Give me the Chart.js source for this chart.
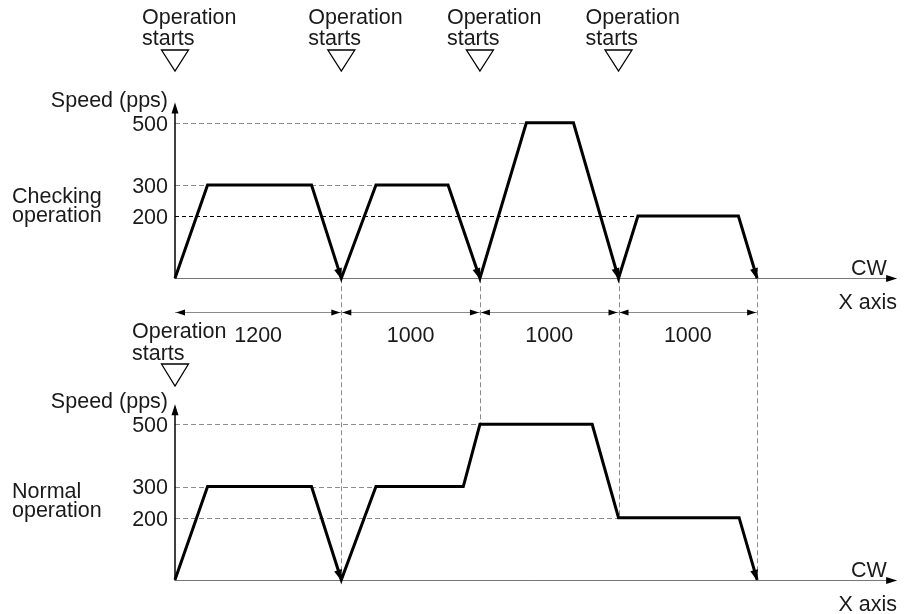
<!DOCTYPE html>
<html>
<head>
<meta charset="utf-8">
<script src="https://cdn.jsdelivr.net/npm/chart.js@4.4.0/dist/chart.umd.min.js"></script>
<style>
  html, body { margin: 0; padding: 0; background: #fff; }
  #wrap { position: relative; width: 908px; height: 614px; }
</style>
</head>
<body>
<div id="wrap"><canvas id="grafico" width="908" height="614"></canvas></div>
<script>
// X axis position (pulses) and speed (pps) for each panel
const checkX     = [0, 235, 985, 1200, 1450, 1970, 2200, 2535, 2875, 3200, 3340, 4065, 4200];
const checkSpeed = [0, 300, 300,    0,  300,  300,    0,  500,  500,    0,  200,  200,    0];
const normalX     = [0, 235, 985, 1200, 1450, 2080, 2200, 3010, 3200, 4070, 4200];
const normalSpeed = [0, 300, 300,    0,  300,  300,  500,  500,  200,  200,    0];

const speedTicks = [500, 300, 200];
const distances = [1200, 1000, 1000, 1000];

const checkTitle = ['Checking', 'operation'];
const normalTitle = ['Normal', 'operation'];
const startText = ['Operation', 'starts'];
const speedTitle = 'Speed (pps)';
const dirText = 'CW';
const axisText = 'X axis';

// where each move starts / ends along the X axis
let starts = [0];
distances.forEach(d => starts.push(starts[starts.length - 1] + d));

const FONT = '21.5px "Liberation Sans", Arial, Helvetica, sans-serif';
const INK = '#1a1a1a';
const GRIS = '#8a8a8a';

const panels = [
  { axis: 'yTop', xs: checkX, speeds: checkSpeed, title: checkTitle, titleY: [203, 222],
    marks: starts.slice(0, -1), markText: 33, markTextY: [24, 45], triY: [50, 71], darkGuide: 200 },
  { axis: 'yBot', xs: normalX, speeds: normalSpeed, title: normalTitle, titleY: [498, 517],
    marks: [0], markText: 43, markTextY: [338, 360], triY: [364, 386], darkGuide: null }
];

function arrowHead(c, fx, fy, tx, ty, len, half) {
  const a = Math.atan2(ty - fy, tx - fx);
  const bx = tx - len * Math.cos(a), by = ty - len * Math.sin(a);
  c.beginPath();
  c.moveTo(tx, ty);
  c.lineTo(bx + half * Math.sin(a), by - half * Math.cos(a));
  c.lineTo(bx - half * Math.sin(a), by + half * Math.cos(a));
  c.closePath();
  c.fill();
}

function plateauStart(xs, sp, v) {
  let found = null;
  for (let i = 1; i < sp.length; i++) {
    if (sp[i] === v && sp[i - 1] !== v) found = xs[i];
  }
  return found;
}

function speedAt(xs, sp, x) {
  let m = 0;
  xs.forEach((xx, i) => { if (xx === x) m = Math.max(m, sp[i]); });
  return m;
}

const diagrama = {
  id: 'diagrama',
  beforeDatasetsDraw(chart) {
    const c = chart.ctx, sx = chart.scales.x;
    const yT = chart.scales.yTop, yB = chart.scales.yBot;
    c.save();
    c.lineWidth = 1;

    panels.forEach(p => {
      const y = chart.scales[p.axis];
      const x0 = sx.getPixelForValue(0);
      // dashed speed guides
      speedTicks.forEach(v => {
        const xe = plateauStart(p.xs, p.speeds, v);
        if (xe === null) return;
        const dark = p.darkGuide === v;
        c.strokeStyle = dark ? '#000' : GRIS;
        c.setLineDash(dark ? [4, 3] : [5, 3]);
        c.beginPath();
        c.moveTo(x0, Math.round(y.getPixelForValue(v)) + 0.5);
        c.lineTo(sx.getPixelForValue(xe), Math.round(y.getPixelForValue(v)) + 0.5);
        c.stroke();
      });
      c.setLineDash([]);
      // X axis baseline
      const yb = Math.round(y.getPixelForValue(0)) + 0.5;
      const xEnd = sx.getPixelForValue(5210);
      c.strokeStyle = '#777';
      c.beginPath();
      c.moveTo(x0, yb);
      c.lineTo(xEnd - 6, yb);
      c.stroke();
      c.fillStyle = '#000';
      arrowHead(c, x0, yb, xEnd, yb, 11, 3.5);
      // speed axis
      const yTip = y.getPixelForValue(565);
      c.strokeStyle = '#000';
      c.lineWidth = 1.5;
      c.beginPath();
      c.moveTo(x0, yb);
      c.lineTo(x0, yTip + 6);
      c.stroke();
      arrowHead(c, x0, yb, x0, yTip, 11, 3.5);
      c.lineWidth = 1;
    });

    // vertical dashed connectors between the panels
    c.strokeStyle = GRIS;
    c.setLineDash([5, 3]);
    starts.slice(1).forEach(s => {
      const px = Math.round(sx.getPixelForValue(s)) + 0.5;
      c.beginPath();
      c.moveTo(px, yT.getPixelForValue(0));
      c.lineTo(px, yB.getPixelForValue(speedAt(normalX, normalSpeed, s)));
      c.stroke();
    });
    c.setLineDash([]);

    // distance dimensions
    const dimY = 312.5;
    c.font = FONT;
    c.textAlign = 'center';
    c.textBaseline = 'alphabetic';
    distances.forEach((d, i) => {
      const a = sx.getPixelForValue(starts[i]), b = sx.getPixelForValue(starts[i + 1]);
      c.strokeStyle = GRIS;
      c.beginPath();
      c.moveTo(a, dimY);
      c.lineTo(b, dimY);
      c.stroke();
      c.fillStyle = '#000';
      arrowHead(c, b, dimY, a + 1, dimY, 9, 3);
      arrowHead(c, a, dimY, b - 1, dimY, 9, 3);
      c.fillStyle = INK;
      c.fillText(String(d), (a + b) / 2, 342);
    });
    c.restore();
  },
  afterDatasetsDraw(chart) {
    const c = chart.ctx, sx = chart.scales.x;
    c.save();
    c.font = FONT;
    panels.forEach(p => {
      const y = chart.scales[p.axis];
      const x0 = sx.getPixelForValue(0);
      // arrowheads where a move ends
      c.fillStyle = '#000';
      for (let i = 1; i < p.speeds.length; i++) {
        if (p.speeds[i] === 0 && p.speeds[i - 1] > 0) {
          arrowHead(c, sx.getPixelForValue(p.xs[i - 1]), y.getPixelForValue(p.speeds[i - 1]),
            sx.getPixelForValue(p.xs[i]), y.getPixelForValue(0) + 1, 11, 4);
        }
      }
      c.fillStyle = INK;
      // tick labels
      c.textAlign = 'right';
      c.textBaseline = 'middle';
      speedTicks.forEach(v => c.fillText(String(v), x0 - 7, y.getPixelForValue(v) + 2));
      c.textBaseline = 'alphabetic';
      c.fillText(speedTitle, x0 - 7, y.getPixelForValue(565) + 4);
      // panel title
      c.textAlign = 'left';
      p.title.forEach((t, k) => c.fillText(t, 12, p.titleY[k]));
      // CW and X axis
      const yb = y.getPixelForValue(0);
      c.fillText(dirText, 851, yb - 3);
      c.textAlign = 'right';
      c.fillText(axisText, 897, yb + 31);
      // operation start markers
      p.marks.forEach(m => {
        const px = sx.getPixelForValue(m);
        c.textAlign = 'left';
        c.fillStyle = INK;
        startText.forEach((t, k) => c.fillText(t, px - p.markText, p.markTextY[k]));
        c.beginPath();
        c.moveTo(px - 13.5, p.triY[0]);
        c.lineTo(px + 13.5, p.triY[0]);
        c.lineTo(px, p.triY[1]);
        c.closePath();
        c.fillStyle = '#fff';
        c.fill();
        c.strokeStyle = '#000';
        c.lineWidth = 1.3;
        c.stroke();
      });
    });
    c.restore();
  }
};

const ctx = document.getElementById('grafico').getContext('2d');

new Chart(ctx, {
  type: 'line',
  data: {
    datasets: [
      {
        label: checkTitle.join(' '),
        data: checkX.map((x, i) => ({ x: x, y: checkSpeed[i] })),
        yAxisID: 'yTop',
        borderColor: '#000',
        backgroundColor: '#000'
      },
      {
        label: normalTitle.join(' '),
        data: normalX.map((x, i) => ({ x: x, y: normalSpeed[i] })),
        yAxisID: 'yBot',
        borderColor: '#000',
        backgroundColor: '#000'
      }
    ]
  },
  options: {
    responsive: false,
    animation: false,
    events: [],
    layout: { padding: { left: 175, right: 40, top: 0, bottom: 0 } },
    datasets: {
      line: {
        borderWidth: 3,
        borderJoinStyle: 'miter',
        pointRadius: 0,
        tension: 0,
        fill: false,
        clip: false
      }
    },
    plugins: {
      colors: { enabled: false },
      legend: { display: false },
      tooltip: { enabled: false }
    },
    scales: {
      x: { type: 'linear', min: 0, max: 5000, display: false },
      yTop: { type: 'linear', min: -1080, max: 895, display: false },
      yBot: { type: 'linear', min: -110, max: 1865, display: false }
    }
  },
  plugins: [diagrama]
});
</script>
</body>
</html>
